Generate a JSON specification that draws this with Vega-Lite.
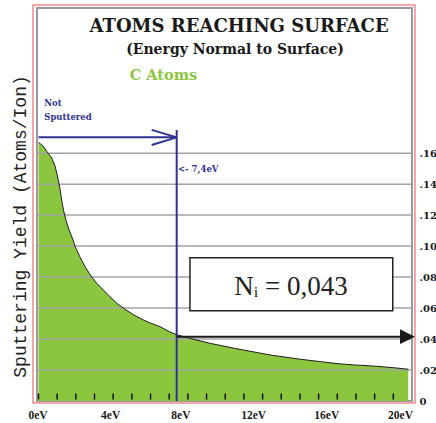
{
  "$schema": "https://vega.github.io/schema/vega-lite/v6.json",
  "width": 375,
  "height": 393,
  "autosize": {"type": "none"},
  "padding": {"left": 37, "top": 8, "right": 24, "bottom": 22},
  "background": "white",
  "view": {"stroke": "#9a9a9a", "strokeWidth": 2},
  "config": {"font": "DejaVu Serif"},
  "datasets": {
    "curve": [
      {"energy": 0, "yield": 0.167}, {"energy": 0.25, "yield": 0.1645}, {"energy": 0.45, "yield": 0.161},
      {"energy": 0.7, "yield": 0.157}, {"energy": 0.88, "yield": 0.152}, {"energy": 1.0, "yield": 0.146},
      {"energy": 1.15, "yield": 0.137}, {"energy": 1.25, "yield": 0.129}, {"energy": 1.35, "yield": 0.1225},
      {"energy": 1.5, "yield": 0.1155}, {"energy": 1.62, "yield": 0.111}, {"energy": 1.8, "yield": 0.1055},
      {"energy": 1.97, "yield": 0.0995}, {"energy": 2.22, "yield": 0.093}, {"energy": 2.5, "yield": 0.0865},
      {"energy": 2.85, "yield": 0.08}, {"energy": 3.12, "yield": 0.076}, {"energy": 3.5, "yield": 0.0713},
      {"energy": 3.83, "yield": 0.0673}, {"energy": 4.2, "yield": 0.063}, {"energy": 4.63, "yield": 0.0592},
      {"energy": 5.1, "yield": 0.0556}, {"energy": 5.61, "yield": 0.0523}, {"energy": 6.0, "yield": 0.0503},
      {"energy": 6.51, "yield": 0.048}, {"energy": 7.0, "yield": 0.0448}, {"energy": 7.4, "yield": 0.0428},
      {"energy": 8.0, "yield": 0.0408}, {"energy": 9.2, "yield": 0.0372}, {"energy": 10.5, "yield": 0.034},
      {"energy": 12.4, "yield": 0.0297}, {"energy": 14.0, "yield": 0.027}, {"energy": 15.1, "yield": 0.0254},
      {"energy": 16.1, "yield": 0.024}, {"energy": 17.0, "yield": 0.0232}, {"energy": 17.9, "yield": 0.0226},
      {"energy": 19.0, "yield": 0.0215}, {"energy": 19.8, "yield": 0.0205}
    ],
    "ticks": [
      {"e": 0}, {"e": 1}, {"e": 2}, {"e": 3}, {"e": 4}, {"e": 5}, {"e": 6}, {"e": 7}, {"e": 8}, {"e": 9},
      {"e": 10}, {"e": 11}, {"e": 12}, {"e": 13}, {"e": 14}, {"e": 15}, {"e": 16}, {"e": 17}, {"e": 18}, {"e": 19}
    ],
    "grid": [{"v": 0.02}, {"v": 0.04}, {"v": 0.06}, {"v": 0.08}, {"v": 0.10}, {"v": 0.12}, {"v": 0.14}, {"v": 0.16}],
    "navy": [
      {"x": 0, "y": 0.1702, "x2": 7.4, "y2": 0.1702},
      {"x": 6.06, "y": 0.175, "x2": 7.4, "y2": 0.1702},
      {"x": 6.06, "y": 0.1653, "x2": 7.4, "y2": 0.1702},
      {"x": 7.4, "y": 0.175, "x2": 7.4, "y2": 0}
    ],
    "black": [{"x": 7.4, "y": 0.0415, "x2": 19.36, "y2": 0.0415}],
    "head": [{"x": 19.76, "y": 0.0415}],
    "box": [{"x": 8.11, "x2": 18.97, "y": 0.0925, "y2": 0.0583}],
    "boxtext": [{"x": 13.52, "y": 0.0684, "t": "Nᵢ = 0,043"}],
    "navytext": [
      {"x": 0.31, "y": 0.1904, "t": "Not"},
      {"x": 0.31, "y": 0.1814, "t": "Sputtered"},
      {"x": 7.47, "y": 0.1478, "t": "<- 7,4eV"}
    ],
    "title": [{"x": 10.74, "y": 0.238, "t": "ATOMS REACHING SURFACE"}],
    "subtitle": [{"x": 10.52, "y": 0.2238, "t": "(Energy Normal to Surface)"}],
    "species": [{"x": 6.69, "y": 0.2072, "t": "C Atoms"}]
  },
  "layer": [
    {
      "data": {"name": "curve"},
      "mark": {"type": "area", "color": "#8cc63f"},
      "encoding": {
        "x": {
          "field": "energy", "type": "quantitative",
          "scale": {"domain": [-0.08, 20], "nice": false, "zero": false},
          "axis": {
            "orient": "bottom", "offset": -6,
            "values": [0,1,2,3,4,5,6,7,8,9,10,11,12,13,14,15,16,17,18,19,20],
            "labelExpr": "datum.value % 4 == 0 ? datum.value + 'eV' : ''",
            "tickSize": 6, "tickColor": "#111111", "tickWidth": 1.5, "tickOpacity": 0,
            "domain": false, "grid": false, "title": null, "zindex": 1,
            "labelPadding": 8, "labelOverlap": false, "labelFlush": false,
            "labelOffset": {
              "condition": [
                {"test": "datum.value == 4", "value": -3},
                {"test": "datum.value == 8", "value": -7.5},
                {"test": "datum.value == 12", "value": -9.5},
                {"test": "datum.value == 16", "value": -11},
                {"test": "datum.value == 20", "value": -12}
              ],
              "value": -1
            },
            "labelFont": "Liberation Serif", "labelFontWeight": "bold", "labelFontSize": 11.5, "labelColor": "#1a1a1a"
          }
        },
        "y": {
          "field": "yield", "type": "quantitative",
          "scale": {"domain": [0, 0.2537], "nice": false},
          "axis": {
            "orient": "right",
            "values": [0, 0.02, 0.04, 0.06, 0.08, 0.1, 0.12, 0.14, 0.16],
            "labelExpr": "datum.value == 0 ? '0' : replace(format(datum.value, '.2f'), '0.', '.')",
            "grid": false, "ticks": false, "domain": false, "title": null,
            "labelPadding": 7, "labelAlign": "left", "labelBaseline": "middle",
            "labelFont": "DejaVu Serif", "labelFontWeight": "bold", "labelFontSize": 10, "labelColor": "#1a1a1a"
          }
        }
      }
    },
    {
      "data": {"values": [{}]},
      "mark": {"type": "rect", "fill": "white", "fillOpacity": 0, "stroke": "#f08a8a", "strokeWidth": 1.5},
      "encoding": {
        "x": {"datum": -0.2945, "type": "quantitative", "axis": null},
        "x2": {"datum": 20.16},
        "y": {"datum": 0.2557, "type": "quantitative", "axis": null},
        "y2": {"datum": -0.0013}
      }
    },
    {
      "data": {"name": "grid"},
      "mark": {"type": "rule", "color": "#a3a3a3", "strokeWidth": 1.5},
      "encoding": {
        "y": {
          "field": "v", "type": "quantitative",
          "axis": {
            "orient": "left", "labels": false, "ticks": false, "domain": false, "grid": false,
            "title": "Sputtering Yield (Atoms/Ion)",
            "titleFont": "Liberation Mono", "titleFontSize": 18, "titleFontWeight": "normal", "titleColor": "#222222",
            "titleX": -17, "titleY": 218, "titleAngle": 270, "titleAlign": "center", "titleBaseline": "middle"
          }
        }
      }
    },
    {
      "data": {"name": "ticks"},
      "mark": {"type": "tick", "orient": "vertical", "color": "#111111", "thickness": 1.5, "size": 6, "opacity": 1},
      "encoding": {
        "x": {"field": "e", "type": "quantitative", "axis": null},
        "y": {"datum": 0.0029, "type": "quantitative", "axis": null}
      }
    },
    {
      "data": {"name": "curve"},
      "mark": {"type": "line", "color": "#1e1e1e", "strokeWidth": 1},
      "encoding": {
        "x": {"field": "energy", "type": "quantitative", "axis": null},
        "y": {"field": "yield", "type": "quantitative", "axis": null}
      }
    },
    {
      "data": {"name": "box"},
      "mark": {"type": "rect", "fill": "white", "stroke": "#222222", "strokeWidth": 1.5},
      "encoding": {
        "x": {"field": "x", "type": "quantitative", "axis": null},
        "x2": {"field": "x2"},
        "y": {"field": "y", "type": "quantitative", "axis": null},
        "y2": {"field": "y2"}
      }
    },
    {
      "data": {"name": "boxtext"},
      "mark": {"type": "text", "font": "Liberation Serif", "fontSize": 27, "color": "#222222", "align": "center", "baseline": "alphabetic"},
      "encoding": {
        "x": {"field": "x", "type": "quantitative", "axis": null},
        "y": {"field": "y", "type": "quantitative", "axis": null},
        "text": {"field": "t"}
      }
    },
    {
      "data": {"name": "navy"},
      "mark": {"type": "rule", "color": "#2e3192", "strokeWidth": 2},
      "encoding": {
        "x": {"field": "x", "type": "quantitative", "axis": null},
        "x2": {"field": "x2"},
        "y": {"field": "y", "type": "quantitative", "axis": null},
        "y2": {"field": "y2"}
      }
    },
    {
      "data": {"name": "black"},
      "mark": {"type": "rule", "color": "#1a1a1a", "strokeWidth": 2},
      "encoding": {
        "x": {"field": "x", "type": "quantitative", "axis": null},
        "x2": {"field": "x2"},
        "y": {"field": "y", "type": "quantitative", "axis": null},
        "y2": {"field": "y2"}
      }
    },
    {
      "data": {"name": "head"},
      "mark": {"type": "point", "shape": "M1,0L-1,-0.98L-1,0.98Z", "size": 225, "filled": true, "color": "#1a1a1a", "opacity": 1},
      "encoding": {
        "x": {"field": "x", "type": "quantitative", "axis": null},
        "y": {"field": "y", "type": "quantitative", "axis": null}
      }
    },
    {
      "data": {"name": "navytext"},
      "mark": {"type": "text", "font": "DejaVu Serif", "fontWeight": "bold", "fontSize": 8.5, "color": "#2e3192", "align": "left", "baseline": "alphabetic"},
      "encoding": {
        "x": {"field": "x", "type": "quantitative", "axis": null},
        "y": {"field": "y", "type": "quantitative", "axis": null},
        "text": {"field": "t"}
      }
    },
    {
      "data": {"name": "title"},
      "mark": {"type": "text", "font": "DejaVu Serif", "fontWeight": "bold", "fontSize": 18, "color": "#1a1a1a", "align": "center", "baseline": "alphabetic"},
      "encoding": {
        "x": {"field": "x", "type": "quantitative", "axis": null},
        "y": {"field": "y", "type": "quantitative", "axis": null},
        "text": {"field": "t"}
      }
    },
    {
      "data": {"name": "subtitle"},
      "mark": {"type": "text", "font": "DejaVu Serif", "fontWeight": "bold", "fontSize": 14, "color": "#1a1a1a", "align": "center", "baseline": "alphabetic"},
      "encoding": {
        "x": {"field": "x", "type": "quantitative", "axis": null},
        "y": {"field": "y", "type": "quantitative", "axis": null},
        "text": {"field": "t"}
      }
    },
    {
      "data": {"name": "species"},
      "mark": {"type": "text", "font": "DejaVu Serif", "fontWeight": "bold", "fontSize": 14.5, "color": "#8cc63f", "align": "center", "baseline": "alphabetic"},
      "encoding": {
        "x": {"field": "x", "type": "quantitative", "axis": null},
        "y": {"field": "y", "type": "quantitative", "axis": null},
        "text": {"field": "t"}
      }
    }
  ],
  "resolve": {"axis": {"x": "independent", "y": "independent"}}
}
